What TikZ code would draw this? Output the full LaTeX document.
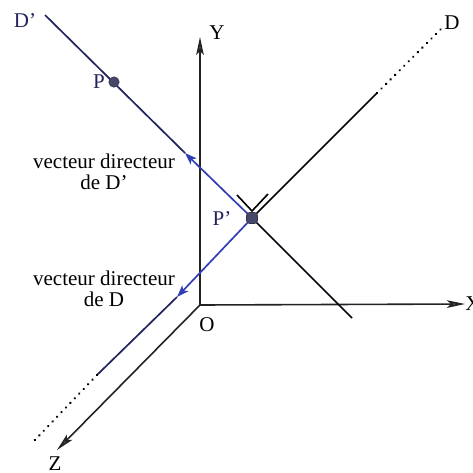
\documentclass[tikz,border=0pt]{standalone}
\usepackage{fontspec}
\setmainfont{Liberation Serif}
\usetikzlibrary{arrows.meta,calc}
\definecolor{navy}{RGB}{35,35,95}
\definecolor{vblue}{RGB}{50,62,180}
\definecolor{axisc}{RGB}{35,35,35}
\definecolor{dotc}{RGB}{70,72,105}
\begin{document}
\begin{tikzpicture}[x=0.5pt,y=-0.5pt,
  lbl/.style={inner sep=0pt, font=\fontsize{10.5}{10.5}\selectfont},
  axis/.style={draw=axisc, line width=0.8pt, -{Stealth[length=9pt,width=3.8pt,inset=2pt,fill=gray!60!black]}},
  solidline/.style={line width=0.85pt},
  dotline/.style={line width=1.3pt, line cap=round, dash pattern=on 0.01pt off 3.2pt},
  vecarrow/.style={draw=vblue, line width=0.85pt, -{Stealth[length=6pt,width=4.2pt,inset=1.5pt]}},
  ptdot/.style={fill=dotc, draw=dotc!70!black, line width=0.3pt}
]
\useasboundingbox (0,0) rectangle (473,473);
% key points
\coordinate (O) at (200,305);
\coordinate (Ytip) at (200,37);
\coordinate (Xtip) at (465,304);
\coordinate (Ztip) at (57,450);
\coordinate (Pp) at (252,218);
\coordinate (P) at (114,82);
\coordinate (DpA) at (45,15);
\coordinate (DpB) at (352,318);
\coordinate (Dsolid) at (377,93);
\coordinate (Ddot) at (443,27);
\coordinate (Dlow) at (97,375);
\coordinate (Dlowdot) at (33,442);
\coordinate (vDp) at (185,153);
\coordinate (vD) at (177,297);
\coordinate (raA) at (237,195);
\coordinate (raV) at (252,211);
\coordinate (raB) at (268,194);
% axes
\draw[axis] (O) -- (Ytip);
\draw[axis] (O) -- (Xtip);
\draw[axis] (O) -- (Ztip);
% line D'
\draw[solidline, navy] (DpA) -- (vDp);
\draw[solidline, black!85!navy] (Pp) -- (DpB);
\draw[vecarrow] (Pp) -- (vDp);
% line D
\draw[solidline, black] (Pp) -- (Dsolid);
\draw[dotline, black] (Dsolid) -- (Ddot);
\draw[solidline, navy] (vD) -- (Dlow);
\draw[dotline, black] (Dlow) -- (Dlowdot);
\draw[vecarrow] (Pp) -- (vD);
% right angle mark
\draw[line width=0.8pt] (raA) -- (raV) -- (raB);
% points
\fill[ptdot] (P) circle (5.2);
\filldraw[ptdot, rounded corners=1.5pt] ($(Pp)+(-5.5,-5.5)$) rectangle ($(Pp)+(5.5,5.5)$);
% labels
\node[lbl, text=navy] (Dplab) at (25,21) {D’};
\node[lbl] (Dlab) at (452,23) {D};
\node[lbl] (Ylab) at (217,33) {Y};
\node[lbl, text=navy] (Plab) at (99,82) {P};
\node[lbl, text=navy] (Pplab) at (222,219) {P’};
\node[lbl, align=center] (v1) at (104,172) {vecteur directeur\\de D’};
\node[lbl, align=center] (v2) at (104,289) {vecteur directeur\\de D};
\node[lbl] (Olab) at (207,325) {O};
\node[lbl, anchor=west] (Xlab) at (465,304) {X};
\node[lbl] (Zlab) at (55,464) {Z};
\end{tikzpicture}
\end{document}
